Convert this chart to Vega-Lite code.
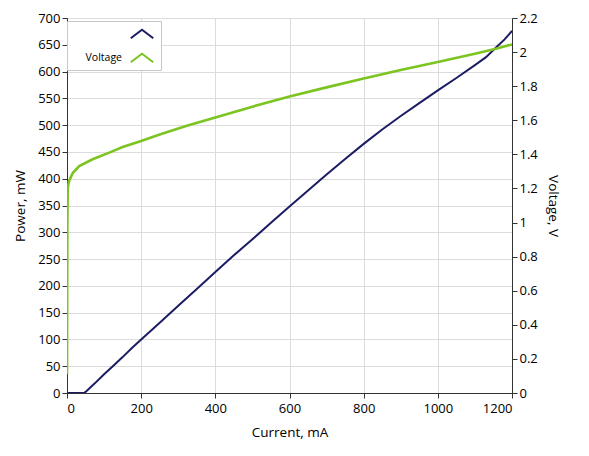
{
  "$schema": "https://vega.github.io/schema/vega-lite/v6.json",
  "width": 445,
  "height": 375,
  "autosize": {"type": "none"},
  "padding": {"left": 67, "top": 18, "right": 77, "bottom": 63},
  "background": "white",
  "datasets": {
    "power": [
      {"I": 0, "P": 0, "series": "Power"},
      {"I": 46, "P": 0, "series": "Power"},
      {"I": 50, "P": 2, "series": "Power"},
      {"I": 75, "P": 18, "series": "Power"},
      {"I": 100, "P": 35, "series": "Power"},
      {"I": 125, "P": 51, "series": "Power"},
      {"I": 150, "P": 67, "series": "Power"},
      {"I": 175, "P": 84, "series": "Power"},
      {"I": 200, "P": 100, "series": "Power"},
      {"I": 250, "P": 131, "series": "Power"},
      {"I": 300, "P": 163, "series": "Power"},
      {"I": 350, "P": 194, "series": "Power"},
      {"I": 400, "P": 226, "series": "Power"},
      {"I": 450, "P": 257, "series": "Power"},
      {"I": 500, "P": 287, "series": "Power"},
      {"I": 550, "P": 318, "series": "Power"},
      {"I": 600, "P": 348, "series": "Power"},
      {"I": 650, "P": 378, "series": "Power"},
      {"I": 700, "P": 408, "series": "Power"},
      {"I": 750, "P": 437, "series": "Power"},
      {"I": 800, "P": 465, "series": "Power"},
      {"I": 850, "P": 492, "series": "Power"},
      {"I": 900, "P": 517, "series": "Power"},
      {"I": 950, "P": 541, "series": "Power"},
      {"I": 1000, "P": 565, "series": "Power"},
      {"I": 1050, "P": 588, "series": "Power"},
      {"I": 1100, "P": 612, "series": "Power"},
      {"I": 1130, "P": 627, "series": "Power"},
      {"I": 1154, "P": 643, "series": "Power"},
      {"I": 1180, "P": 660, "series": "Power"},
      {"I": 1200, "P": 676, "series": "Power"}
    ],
    "voltage": [
      {"I": 0, "V": 0.11, "series": "Voltage"},
      {"I": 0.5, "V": 0.6, "series": "Voltage"},
      {"I": 1, "V": 1.0, "series": "Voltage"},
      {"I": 2, "V": 1.2, "series": "Voltage"},
      {"I": 5, "V": 1.24, "series": "Voltage"},
      {"I": 10, "V": 1.265, "series": "Voltage"},
      {"I": 16, "V": 1.292, "series": "Voltage"},
      {"I": 33, "V": 1.331, "series": "Voltage"},
      {"I": 69, "V": 1.371, "series": "Voltage"},
      {"I": 114, "V": 1.41, "series": "Voltage"},
      {"I": 150, "V": 1.443, "series": "Voltage"},
      {"I": 200, "V": 1.478, "series": "Voltage"},
      {"I": 250, "V": 1.516, "series": "Voltage"},
      {"I": 321, "V": 1.566, "series": "Voltage"},
      {"I": 400, "V": 1.616, "series": "Voltage"},
      {"I": 500, "V": 1.68, "series": "Voltage"},
      {"I": 600, "V": 1.739, "series": "Voltage"},
      {"I": 700, "V": 1.793, "series": "Voltage"},
      {"I": 800, "V": 1.845, "series": "Voltage"},
      {"I": 900, "V": 1.895, "series": "Voltage"},
      {"I": 1000, "V": 1.942, "series": "Voltage"},
      {"I": 1100, "V": 1.99, "series": "Voltage"},
      {"I": 1154, "V": 2.018, "series": "Voltage"},
      {"I": 1200, "V": 2.045, "series": "Voltage"}
    ]
  },
  "encoding": {
    "x": {
      "field": "I",
      "type": "quantitative",
      "title": "Current, mA",
      "scale": {"domain": [0, 1200], "nice": false},
      "axis": {
        "values": [0, 200, 400, 600, 800, 1000, 1200],
        "format": "d",
        "labelPadding": 4,
        "titlePadding": 10
      }
    }
  },
  "layer": [
    {
      "data": {"name": "power"},
      "mark": {"type": "line", "strokeWidth": 2, "clip": true},
      "encoding": {
        "y": {
          "field": "P",
          "type": "quantitative",
          "title": "Power, mW",
          "scale": {"domain": [0, 700], "nice": false},
          "axis": {
            "values": [0, 50, 100, 150, 200, 250, 300, 350, 400, 450, 500, 550, 600, 650, 700],
            "titlePadding": 10
          }
        },
        "color": {"field": "series", "type": "nominal"}
      }
    },
    {
      "data": {"name": "voltage"},
      "mark": {"type": "line", "strokeWidth": 2.6, "clip": true},
      "encoding": {
        "y": {
          "field": "V",
          "type": "quantitative",
          "title": "Voltage, V",
          "scale": {"domain": [0, 2.2], "nice": false},
          "axis": {
            "orient": "right",
            "grid": false,
            "format": "~g",
            "values": [0, 0.2, 0.4, 0.6, 0.8, 1, 1.2, 1.4, 1.6, 1.8, 2, 2.2],
            "titleAngle": 90,
            "titlePadding": 8
          }
        },
        "color": {
          "field": "series",
          "type": "nominal",
          "scale": {"domain": ["Power", "Voltage"], "range": ["#1c1c64", "#7cc420"]},
          "legend": {
            "title": null,
            "orient": "none",
            "legendX": 0,
            "legendY": 3,
            "fillColor": "white",
            "strokeColor": "#c8c8c8",
            "padding": 3,
            "symbolType": "M-1.3,0.5L0,-0.5L1.3,0.5",
            "symbolSize": 300,
            "symbolStrokeWidth": 2,
            "symbolFillColor": "transparent",
            "symbolOffset": 62,
            "labelAlign": "right",
            "labelOffset": -30,
            "labelFont": "Open Sans",
            "labelFontSize": 10.5,
            "labelColor": "#000",
            "rowPadding": 5,
            "labelExpr": "datum.label == 'Power' ? '' : datum.label"
          }
        }
      }
    }
  ],
  "resolve": {"scale": {"y": "independent"}},
  "config": {
    "view": {"stroke": "#333"},
    "font": "Open Sans",
    "axis": {
      "labelFont": "Open Sans",
      "titleFont": "Open Sans",
      "labelFontSize": 13,
      "titleFontSize": 13.5,
      "titleFontWeight": "normal",
      "labelColor": "#000",
      "titleColor": "#000",
      "domainColor": "#333",
      "tickColor": "#333",
      "tickSize": 5,
      "gridColor": "#dcdcdc",
      "labelPadding": 2
    }
  }
}
